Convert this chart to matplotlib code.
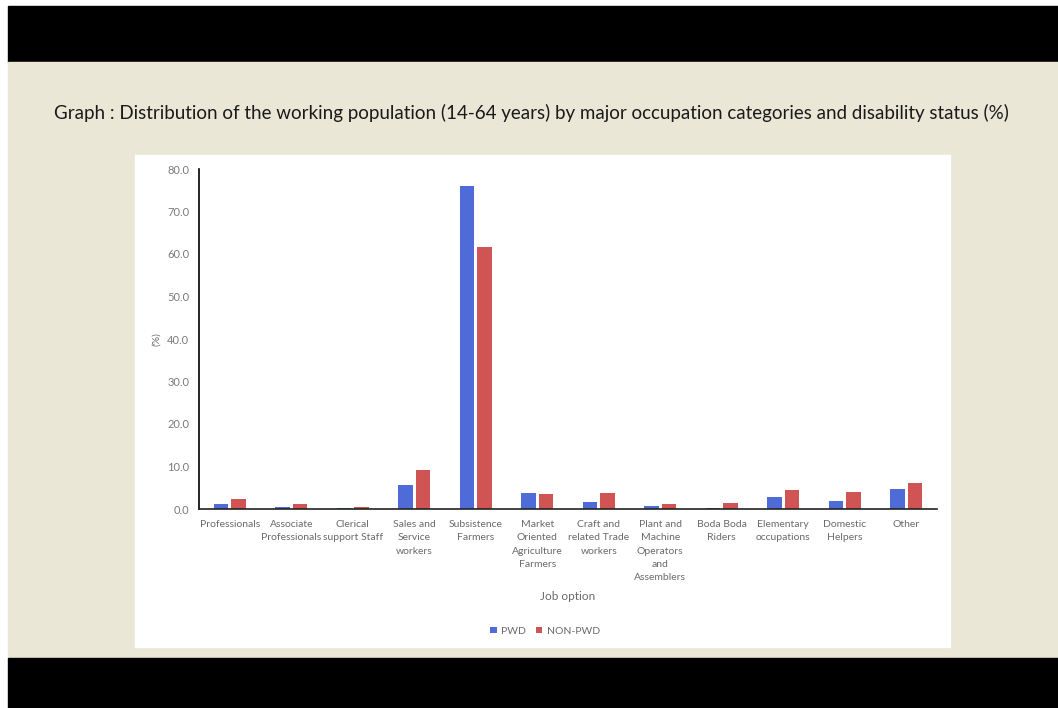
import numpy as np
import matplotlib
matplotlib.use("Agg")
import matplotlib.pyplot as plt
from matplotlib.patches import Rectangle

# data
jobs = ["Professionals", "Associate\nProfessionals", "Clerical\nsupport Staff",
        "Sales and\nService\nworkers", "Subsistence\nFarmers",
        "Market\nOriented\nAgriculture\nFarmers", "Craft and\nrelated Trade\nworkers",
        "Plant and\nMachine\nOperators\nand\nAssemblers", "Boda Boda\nRiders",
        "Elementary\noccupations", "Domestic\nHelpers", "Other"]
pwd = [1.1, 0.55, 0.2, 5.6, 76.1, 3.85, 1.65, 0.6, 0.3, 2.75, 1.95, 4.8]
non_pwd = [2.35, 1.25, 0.5, 9.25, 61.7, 3.5, 3.7, 1.25, 1.5, 4.5, 4.0, 6.2]
yticks = np.arange(0, 81, 10)

W, H = 1058, 708
fig = plt.figure(figsize=(W / 100, H / 100), dpi=100)
fig.patch.set_facecolor("white")

def px(x, y, w, h, color):
    # rectangle in pixel coords (top-left origin)
    fig.patches.append(Rectangle((x / W, 1 - (y + h) / H), w / W, h / H,
                                 transform=fig.transFigure, color=color, zorder=-5))

px(8, 6, W - 8, 56, "black")        # top black bar
px(8, 62, W - 8, 596, "#ebe7d7")    # beige slide
px(8, 658, W - 8, 50, "black")      # bottom black bar
px(135, 155, 815, 492, "white")     # chart panel

fig.text(531 / W, 1 - 113 / H,
         "Graph : Distribution of the working population (14-64 years) by major occupation categories and disability status (%)",
         ha="center", va="center", fontsize=13.5, color="#1a1a1a", family="Lato")

ax = fig.add_axes([199 / W, 1 - 509 / H, 738 / W, 340 / H])
ax.set_zorder(2)
ax.set_facecolor("none")
x = np.arange(len(jobs))
bw = 0.23
ax.bar(x - 0.142, pwd, bw, color="#4f6bd8", label="PWD")
ax.bar(x + 0.142, non_pwd, bw, color="#d15454", label="NON-PWD")

ax.set_xlim(-0.5, len(jobs) - 0.5)
ax.set_ylim(0, 80)
ax.set_yticks(yticks)
ax.set_yticklabels(["%.1f" % v for v in yticks], fontsize=8, color="#7a7a7a", family="Lato")
ax.set_xticks(x)
ax.set_xticklabels(jobs, fontsize=7.5, color="#6a6a6a", family="Lato", linespacing=1.62)
ax.tick_params(length=0)
ax.tick_params(axis="x", pad=8)
ax.tick_params(axis="y", pad=7)
for s in ["top", "right"]:
    ax.spines[s].set_visible(False)
ax.spines["left"].set_color("black")
ax.spines["left"].set_linewidth(1.2)
ax.spines["bottom"].set_color("#222222")
ax.spines["bottom"].set_linewidth(1.2)

fig.text(157 / W, 1 - 339 / H, "(%)", rotation=90, ha="center", va="center",
         fontsize=7.5, color="#6a6a6a", family="Lato")
fig.text(568 / W, 1 - 597 / H, "Job option", ha="center", va="center",
         fontsize=8.5, color="#6a6a6a", family="Lato")

ax.legend(loc="center", bbox_to_anchor=(545 / W, 1 - 631 / H), bbox_transform=fig.transFigure,
          ncol=2, frameon=False, handlelength=0.6, handleheight=0.6,
          handletextpad=0.4, columnspacing=1.0, labelcolor="#6a6a6a",
          prop={"family": "Lato", "size": 7.5})

fig.savefig("out.png", dpi=100)
